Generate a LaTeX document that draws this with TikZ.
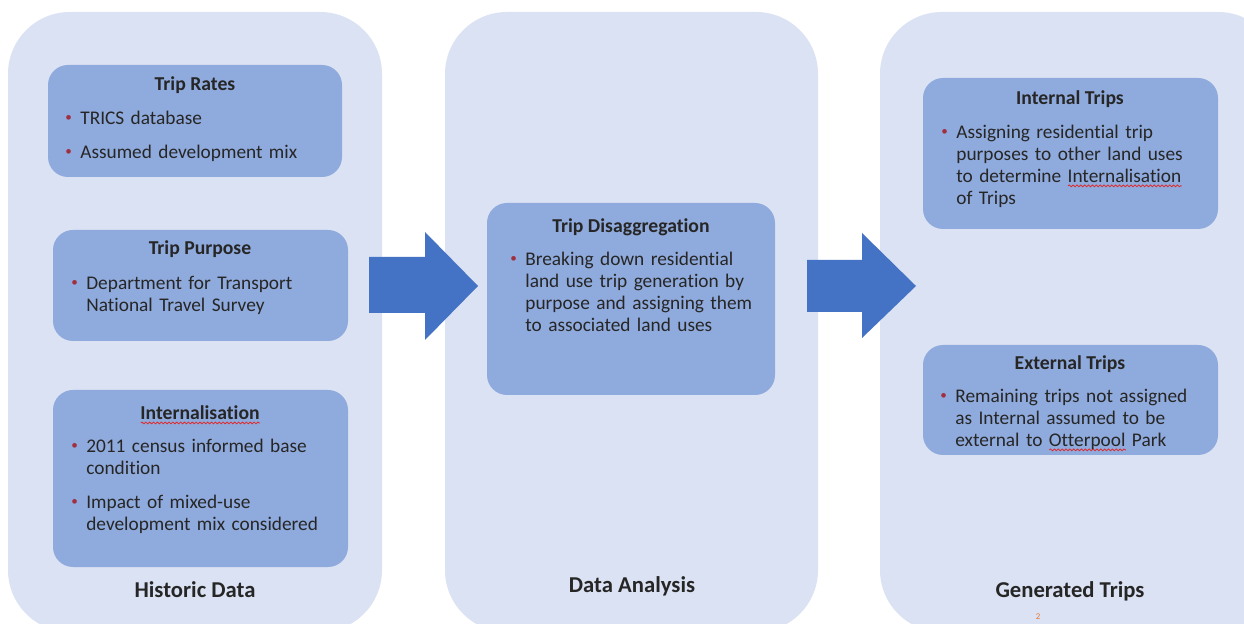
\documentclass[tikz,border=0pt]{standalone}
\usepackage{fontspec}
\setmainfont{Carlito}[Ligatures=NoCommon]
\usepackage{tikz}
\usetikzlibrary{positioning, decorations.pathmorphing}
\definecolor{panelbg}{RGB}{219,226,243}
\definecolor{boxbg}{RGB}{143,170,220}
\definecolor{arrowblue}{RGB}{68,114,196}
\definecolor{textdark}{RGB}{38,38,38}
\definecolor{bulletred}{RGB}{160,48,64}
\definecolor{spellred}{RGB}{225,40,40}
\definecolor{pagenum}{RGB}{230,120,50}
\newdimen\px \px=0.02cm
\newlength\spellwd
% red spell-check squiggle under a word
\newcommand{\spell}[1]{\settowidth\spellwd{#1}%
  \rlap{\raisebox{-2.4pt}[0pt][0pt]{\tikz\draw[spellred, line width=0.45pt,
    decorate, decoration={snake, amplitude=0.5pt, segment length=2.2pt}]
    (0pt,0pt) -- (\spellwd,0pt);}}#1}
% one bullet point
\newcommand{\bitem}[1]{\raggedright\hangindent=15\px\hangafter=1\noindent
  \makebox[15\px][l]{\color{bulletred}\raisebox{1.8pt}{\fontsize{7.5}{8}\selectfont\textbullet}}#1\par}
\newcommand{\bgap}{\vspace{12\px}}
\tikzset{
  panel/.style={fill=panelbg, rounded corners=62\px, inner sep=0pt},
  inbox/.style={fill=boxbg, rounded corners=20\px, inner sep=0pt},
  boxtitle/.style={font=\bfseries\fontsize{11.2}{13}\selectfont,
    text=textdark, inner sep=0pt, anchor=base},
  bullets/.style={font=\fontsize{11}{12.5}\selectfont, text=textdark,
    inner sep=0pt, text width=300\px, anchor=base west},
  paneltitle/.style={font=\bfseries\fontsize{12.9}{15}\selectfont,
    text=textdark, inner sep=0pt, anchor=base},
  bigarrow/.style={fill=arrowblue}
}

\begin{document}
\begin{tikzpicture}[x=1\px, y=-1\px]
  \useasboundingbox (0,0) rectangle (1244,624);
  \clip (0,0) rectangle (1244,624);
  \fill[white] (0,0) rectangle (1244,624);
  % Three stage panels
  \node[panel, minimum width=374\px, minimum height=620\px] (histP) at (195,322) {};
  \node[panel, minimum width=373\px, minimum height=620\px] (anaP) at (631.5,322) {};
  \node[panel, minimum width=400\px, minimum height=620\px] (genP) at (1080,322) {};
  \node[paneltitle] (histT) at (195,597) {Historic Data};
  \node[paneltitle] (anaT) at (632,592) {Data Analysis};
  \node[paneltitle] (genT) at (1070,597) {Generated Trips};
  % Historic data boxes
  \node[inbox, minimum width=294\px, minimum height=112\px] (rates) at (195,121) {};
  \node[boxtitle] (ratesT) at (195,91) {Trip Rates};
  \node[bullets] (ratesL) at (65,125) {\bitem{TRICS database}\bgap
    \bitem{Assumed development mix}};
  \node[inbox, minimum width=295\px, minimum height=111\px] (purp) at (200.5,285.5) {};
  \node[boxtitle] (purpT) at (200,255) {Trip Purpose};
  \node[bullets] (purpL) at (71,290) {\bitem{Department for Transport\newline
    National Travel Survey}};
  \node[inbox, minimum width=295\px, minimum height=177\px] (intn) at (200.5,478.5) {};
  \node[boxtitle] (intnT) at (200,420) {\spell{Internalisation}};
  \node[bullets] (intnL) at (71,453) {\bitem{2011 census informed base\newline condition}\bgap
    \bitem{Impact of mixed-use\newline development mix considered}};
  % Data analysis box
  \node[inbox, minimum width=288\px, minimum height=192\px] (disg) at (631,299) {};
  \node[boxtitle] (disgT) at (631,233) {Trip Disaggregation};
  \node[bullets] (disgL) at (510,266) {\bitem{Breaking down residential\newline
    land use trip generation by\newline purpose and assigning them\newline
    to associated land uses}};
  % Generated trips boxes
  \node[inbox, minimum width=295\px, minimum height=151\px] (intr) at (1070.5,153.5) {};
  \node[boxtitle] (intrT) at (1070,105) {Internal Trips};
  \node[bullets] (intrL) at (941,139) {\bitem{Assigning residential trip\newline
    purposes to other land uses\newline to determine \spell{Internalisation}\newline of Trips}};
  \node[inbox, minimum width=295\px, minimum height=110\px] (extr) at (1070.5,400) {};
  \node[boxtitle] (extrT) at (1070,370) {External Trips};
  \node[bullets] (extrL) at (940,403) {\bitem{Remaining trips not assigned\newline
    as Internal assumed to be\newline external to \spell{Otterpool} Park}};
  % Block arrows between panels
  \fill[bigarrow] (369,257) -- (425,257) -- (425,232) -- (478,286)
    -- (425,340) -- (425,313) -- (369,313) -- cycle;
  \fill[bigarrow] (807,260) -- (862,260) -- (862,233) -- (916,286)
    -- (862,338) -- (862,312) -- (807,312) -- cycle;
  \node[font=\fontsize{5}{6}\selectfont, text=pagenum, inner sep=0pt] (pnum) at (1038,617) {2};
\end{tikzpicture}
\end{document}
